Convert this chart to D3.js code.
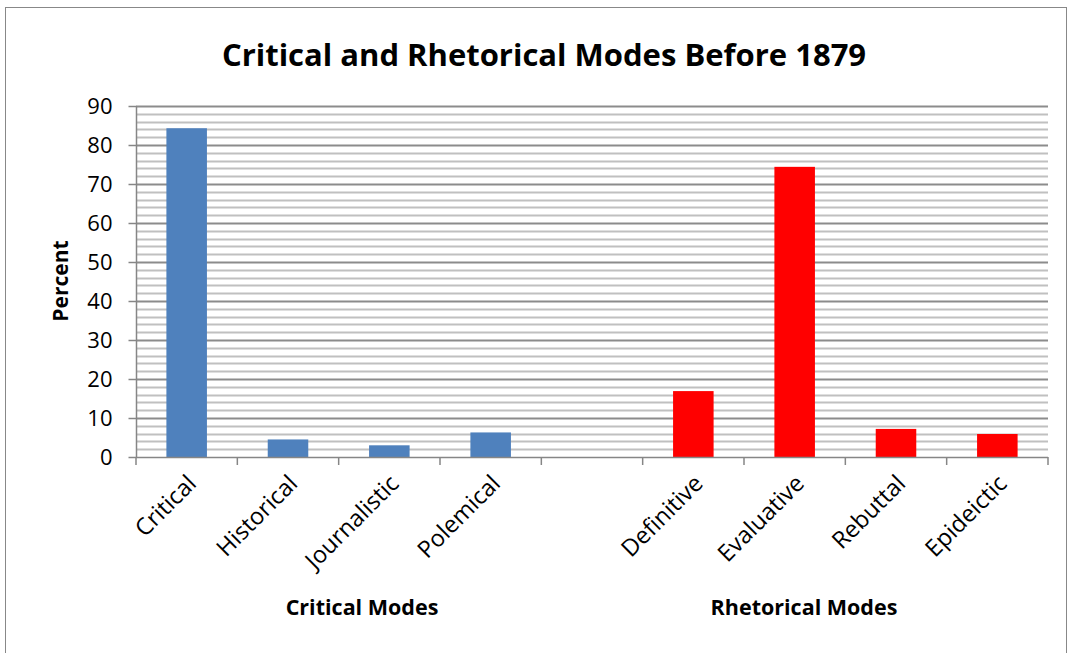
<!DOCTYPE html>
<html>
<head>
<meta charset="utf-8">
<script src="https://cdn.jsdelivr.net/npm/d3@7"></script>
<style>
  body { margin: 0; background: #fff; }
  text { font-family: "Open Sans", "Noto Sans", sans-serif; }
</style>
</head>
<body>
<svg width="1070" height="653"></svg>
<script>
// data
var categories = ["Critical", "Historical", "Journalistic", "Polemical", "",
                  "Definitive", "Evaluative", "Rebuttal", "Epideictic"];
var values = [84.3, 4.5, 3.0, 6.3, null, 16.9, 74.4, 7.2, 5.9];
var groups = ["critical", "critical", "critical", "critical", "none",
              "rhetorical", "rhetorical", "rhetorical", "rhetorical"];
var groupLabels = ["Critical Modes", "Rhetorical Modes"];
var yTicks = [0, 10, 20, 30, 40, 50, 60, 70, 80, 90];

var colors = { critical: "#4f81bd", rhetorical: "#ff0000" };

var svg = d3.select("svg");

// chart frame
svg.append("rect")
    .attr("x", 5.5).attr("y", 7.5)
    .attr("width", 1061).attr("height", 660)
    .attr("fill", "#fff").attr("stroke", "#888").attr("stroke-width", 1);

var plotL = 136, plotR = 1048, plotT = 106, plotB = 457;

var x = d3.scaleBand()
    .domain(d3.range(categories.length))
    .range([plotL, plotR])
    .paddingInner(0.6)
    .paddingOuter(0.3);

var y = d3.scaleLinear().domain([0, 90]).range([plotB, plotT]);

// gridlines: minor every 2, major every 10
var minor = d3.range(2, 91, 2).filter(function(d) { return d % 10 !== 0; });
svg.append("g").selectAll("line")
    .data(minor)
    .enter().append("line")
      .attr("x1", plotL).attr("x2", plotR)
      .attr("y1", function(d) { return Math.round(y(d)) + 0.5; })
      .attr("y2", function(d) { return Math.round(y(d)) + 0.5; })
      .attr("stroke", "#c0c0c0").attr("stroke-width", 2);

svg.append("g").selectAll("line")
    .data(yTicks.slice(1))
    .enter().append("line")
      .attr("x1", plotL).attr("x2", plotR)
      .attr("y1", function(d) { return Math.round(y(d)) + 0.5; })
      .attr("y2", function(d) { return Math.round(y(d)) + 0.5; })
      .attr("stroke", "#8c8c8c").attr("stroke-width", 2);

// bars
svg.append("g").selectAll("rect")
    .data(values.map(function(v, i) { return { i: i, v: v, g: groups[i] }; })
                .filter(function(d) { return d.v !== null; }))
    .enter().append("rect")
      .attr("x", function(d) { return x(d.i); })
      .attr("width", x.bandwidth())
      .attr("y", function(d) { return y(d.v); })
      .attr("height", function(d) { return plotB - y(d.v); })
      .attr("fill", function(d) { return colors[d.g]; });

// y axis
var yAxis = d3.axisLeft(y).tickValues(yTicks).tickSize(8).tickPadding(16);
var ya = svg.append("g")
    .attr("transform", "translate(" + (plotL + 0.5) + ",0)")
    .call(yAxis);
ya.selectAll("path, line").attr("stroke", "#868686").attr("stroke-width", 1.5);
ya.select(".domain").attr("d", "M0," + plotT + "V" + plotB);
ya.selectAll("text")
    .attr("font-family", "Open Sans, sans-serif")
    .attr("font-size", 22).attr("fill", "#000");

// x axis with ticks at category boundaries
var bounds = d3.range(categories.length + 1).map(function(i) {
  return plotL + i * (plotR - plotL) / categories.length;
});
svg.append("line")
    .attr("x1", plotL).attr("x2", plotR)
    .attr("y1", plotB + 0.5).attr("y2", plotB + 0.5)
    .attr("stroke", "#868686").attr("stroke-width", 1.5);
svg.append("g").selectAll("line")
    .data(bounds)
    .enter().append("line")
      .attr("x1", function(d) { return d; }).attr("x2", function(d) { return d; })
      .attr("y1", plotB).attr("y2", plotB + 8)
      .attr("stroke", "#868686").attr("stroke-width", 1.5);

svg.append("g").selectAll("text")
    .data(categories)
    .enter().append("text")
      .attr("text-anchor", "end")
      .attr("font-size", 23.5)
      .attr("transform", function(d, i) {
        var cx = x(i) + x.bandwidth() / 2;
        return "translate(" + (cx + 11) + "," + (plotB + 28) + ") rotate(-45)";
      })
      .text(function(d) { return d; });

// titles
svg.append("text")
    .attr("x", 544).attr("y", 66)
    .attr("text-anchor", "middle")
    .attr("font-size", 31).attr("font-weight", "bold")
    .text("Critical and Rhetorical Modes Before 1879");

svg.append("text")
    .attr("transform", "translate(68,281) rotate(-90)")
    .attr("text-anchor", "middle")
    .attr("font-size", 21).attr("font-weight", "bold")
    .text("Percent");

svg.append("g").selectAll("text")
    .data(groupLabels)
    .enter().append("text")
      .attr("x", function(d, i) { return i === 0 ? 362 : 804; })
      .attr("y", 615)
      .attr("text-anchor", "middle")
      .attr("font-size", 21.5).attr("font-weight", "bold")
      .text(function(d) { return d; });
</script>
</body>
</html>
